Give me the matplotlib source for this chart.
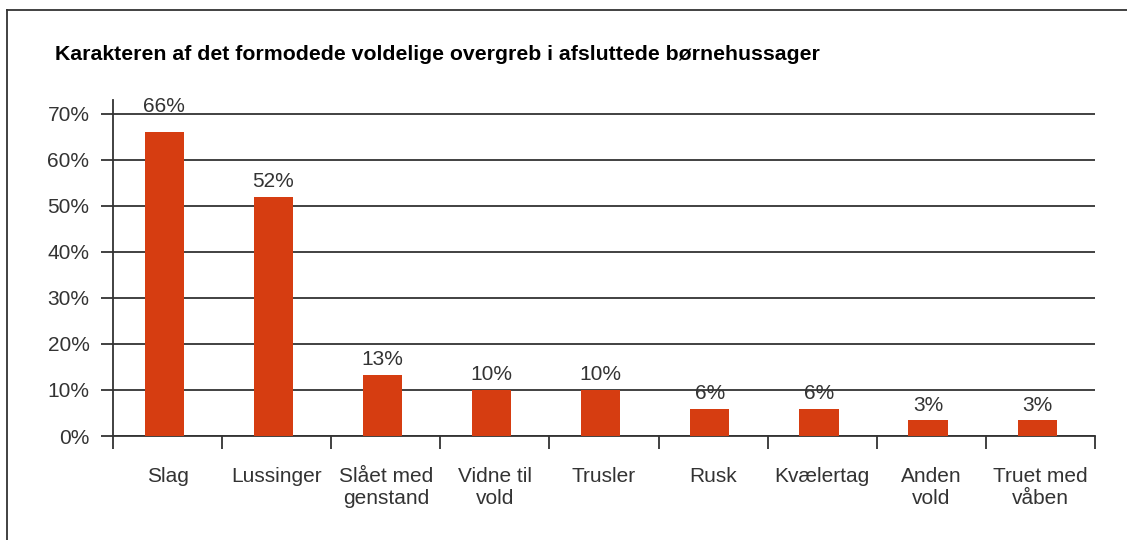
import matplotlib
matplotlib.use('Agg')
import matplotlib.pyplot as plt
from matplotlib.lines import Line2D
import numpy as np

categories = ['Slag', 'Lussinger', 'Slået med\ngenstand', 'Vidne til\nvold', 'Trusler',
              'Rusk', 'Kvælertag', 'Anden\nvold', 'Truet med\nvåben']
values = [66, 52, 13.3, 10, 10, 5.9, 5.9, 3.4, 3.4]
value_labels = ['66%', '52%', '13%', '10%', '10%', '6%', '6%', '3%', '3%']
yticks = [0, 10, 20, 30, 40, 50, 60, 70]

plt.rcParams['font.family'] = ['Liberation Sans', 'DejaVu Sans']

fig = plt.figure(figsize=(11.27, 5.4), dpi=100)
ax = fig.add_axes([113 / 1127, 1 - 436 / 540, (1095 - 113) / 1127, (436 - 100) / 540])

x = np.arange(len(categories))
ax.bar(x - 0.03, values, width=0.36, color='#d63d11', zorder=3)

for xi, v, lab in zip(x, values, value_labels):
    # the tallest label sits a bit higher, near the top gridline
    off = 12 if v > 60 else 4
    ax.annotate(lab, (xi - 0.03, v), xytext=(0, off), textcoords='offset points',
                ha='center', va='bottom', fontsize=15, color='#333333')

ax.set_xlim(-0.5, len(categories) - 0.5)
ax.set_ylim(0, 73)

# gridlines
ax.set_yticks(yticks)
ax.set_yticklabels([f'{t}%' for t in yticks], fontsize=15, color='#333333')
ax.yaxis.grid(True, color='#333333', linewidth=1.3, zorder=0)
ax.tick_params(axis='y', length=9, width=1.3, color='#333333', pad=8)

ax.set_xticks(x)
ax.set_xticklabels(categories, fontsize=15, color='#333333', linespacing=1.2)
ax.set_xticks(np.arange(len(categories) + 1) - 0.5, minor=True)
ax.tick_params(axis='x', which='major', length=0, pad=22.5)
ax.tick_params(axis='x', which='minor', length=9, width=1.3, color='#333333')

for s in ['top', 'right']:
    ax.spines[s].set_visible(False)
for s in ['left', 'bottom']:
    ax.spines[s].set_color('#333333')
    ax.spines[s].set_linewidth(1.3)

# outer frame (left and top edge visible)
fig.add_artist(Line2D([7 / 1127, 7 / 1127], [0, 1 - 10 / 540], color='#333333', linewidth=1.3))
fig.add_artist(Line2D([7 / 1127, 1], [1 - 10 / 540, 1 - 10 / 540], color='#333333', linewidth=1.3))

fig.text(55 / 1127, 1 - 60 / 540, 'Karakteren af det formodede voldelige overgreb i afsluttede børnehussager',
         fontsize=15.3, fontweight='bold', color='black', va='baseline')

fig.savefig('out.png', dpi=100)
